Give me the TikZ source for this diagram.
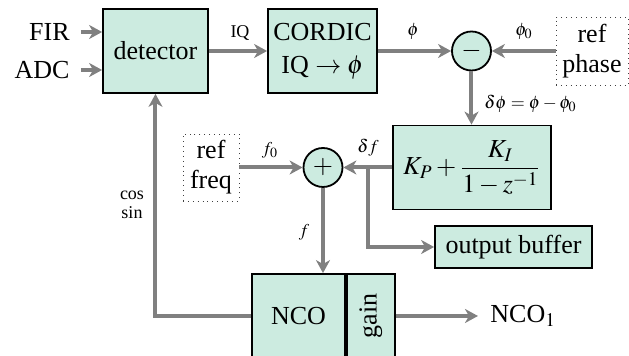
\documentclass[tikz,border=0pt]{standalone}
\IfFileExists{mathptmx.sty}{\usepackage{mathptmx}}{}
\usepackage[no-math]{fontspec}
\setmainfont{Liberation Serif}
\newfontfamily\timesf{Liberation Serif}
\usetikzlibrary{arrows.meta}
\definecolor{boxfill}{RGB}{204,235,224}
\definecolor{wirecol}{RGB}{128,128,128}
\begin{document}
\begin{tikzpicture}[x=0.5pt,y=-0.5pt,
  every node/.style={font=\timesf\fontsize{13}{15}\selectfont, inner sep=0pt},
  blk/.style={draw=black, line width=0.9pt, fill=boxfill, align=center},
  refbox/.style={draw=black!75, dotted, line width=0.45pt, align=center},
  sumnode/.style={circle, draw=black, line width=0.9pt, fill=boxfill, minimum size=19.5pt},
  wire/.style={draw=wirecol, line width=2pt},
  arr/.style={wire, -{Stealth[length=6.5pt,width=7pt,inset=2pt]}},
  lbl/.style={font=\timesf\fontsize{9}{9.5}\selectfont},
]
\useasboundingbox (0,0) rectangle (629,356);
% blocks
\node[blk, minimum width=52.5pt, minimum height=42pt] (det) at (155.5,51) {detector};
\node[blk, minimum width=54.5pt, minimum height=42pt, font=\timesf\fontsize{13}{16.5}\selectfont] (cor) at (322.5,51) {CORDIC\\IQ $\to\phi$};
\node[sumnode] (sub) at (471.5,51) {$-$};
\node[refbox, minimum width=36pt, minimum height=34pt] (rph) at (592,51) {ref\\phase};
\node[blk, minimum width=79pt, minimum height=42pt] (pi) at (472,167.5) {$\displaystyle K_P+\frac{K_I}{1-z^{-1}}$};
\node[sumnode] (add) at (323,167.5) {$+$};
\node[refbox, minimum width=28pt, minimum height=33.5pt] (rfq) at (211,167.5) {ref\\freq};
\node[blk, minimum width=78.5pt, minimum height=21pt] (buf) at (513.5,247) {output buffer};
\node[blk, minimum width=46.5pt, minimum height=42pt] (nco) at (298.5,316) {NCO};
\node[blk, minimum width=24pt, minimum height=42pt, anchor=west] (gain) at (nco.east) {};
\node[rotate=90] (gaintxt) at (gain.center) {gain};
% inputs / outputs
\node[anchor=east, inner xsep=5.5pt] (fir) at (81,32) {FIR};
\node[anchor=east, inner xsep=5.5pt] (adc) at (81,70) {ADC};
\node[anchor=west, inner xsep=6pt] (nout) at (478,316) {NCO$_1$};
\coordinate (br) at (368,167.5);
% connectors
\draw[arr] (fir.east) -- (fir.east -| det.west);
\draw[arr] (adc.east) -- (adc.east -| det.west);
\draw[arr] (det) -- (cor);
\draw[arr] (cor) -- (sub);
\draw[arr] (rph) -- (sub);
\draw[arr] (sub.south) -- (sub.south |- pi.north);
\draw[arr] (pi) -- (add);
\draw[arr] (br) |- (buf.west);
\draw[arr] (rfq) -- (add);
\draw[arr] (add.south) -- (add.south |- nco.north);
\draw[arr] (nco.west) -| (det.south);
\draw[arr] (gain.east) -- (nout.west);
% labels
\node[lbl] (lIQ) at (240,33) {IQ};
\node[lbl] (lphi) at (413,31) {$\phi$};
\node[lbl] (lphi0) at (524,31) {$\phi_0$};
\node[lbl, anchor=west] (ldphi) at (484,104) {$\delta\phi=\phi-\phi_0$};
\node[lbl] (ldf) at (368,148) {$\delta f$};
\node[lbl] (lf0) at (270,150) {$f_0$};
\node[lbl] (lf) at (304,232) {$f$};
\node[lbl, align=center] (lcs) at (132,205) {cos\\sin};
\end{tikzpicture}
\end{document}
